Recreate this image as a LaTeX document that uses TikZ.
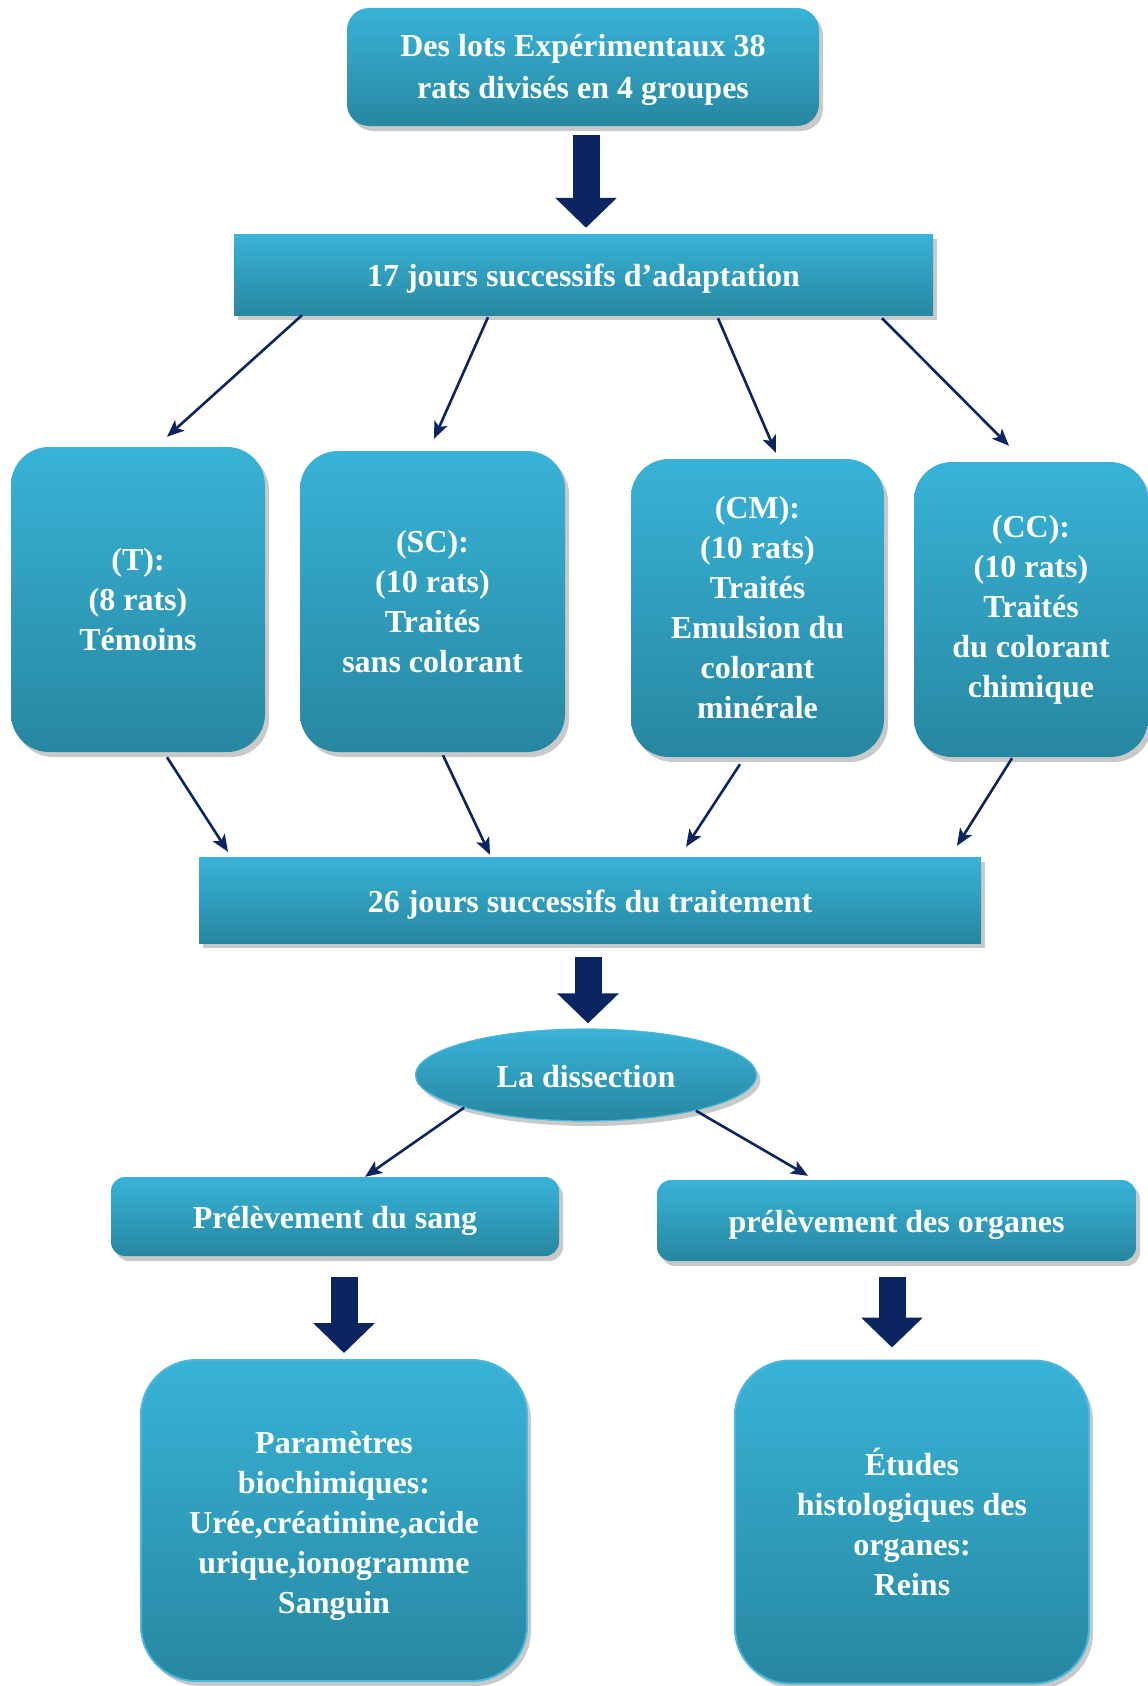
\documentclass[tikz,border=0pt]{standalone}
\usepackage{fontspec}
\setmainfont{Liberation Serif}
\usetikzlibrary{shapes.geometric,arrows.meta,shadows}
\definecolor{boxtop}{HTML}{38B3D7}
\definecolor{boxbot}{HTML}{2787A1}
\definecolor{navy}{HTML}{0A2560}
\definecolor{rim}{HTML}{4DB6D9}
\begin{document}
\begin{tikzpicture}[x=1pt,y=-1pt,
  every node/.style={text=white, font=\fontsize{32}{40}\selectfont\bfseries, align=center, inner sep=0pt},
  box/.style={rectangle, top color=boxtop, bottom color=boxbot, draw=none,
    drop shadow={opacity=0.3, shadow xshift=4pt, shadow yshift=-5pt, fill=black!70}},
  oneline/.style={text height=26pt, text depth=2pt},
  tallbox/.style={box, rounded corners=38pt},
  softbox/.style={box, rounded corners=14pt, oneline},
  bigbox/.style={box, rounded corners=55pt, draw=rim, line width=2pt},
  oval/.style={ellipse, top color=boxtop, bottom color=boxbot, draw=rim, line width=1.2pt,
    text height=25pt, text depth=1pt,
    drop shadow={opacity=0.3, shadow xshift=4pt, shadow yshift=-5pt, fill=black!70}},
  arr/.style={draw=navy, line width=2.6pt, -{Stealth[length=17pt,width=14pt,inset=4pt]}},
  bigarr/.style={draw=navy, line width=27pt, -{Triangle[length=30pt,width=60pt]}}
]
\useasboundingbox (0,0) rectangle (1148,1686);

% nodes
\node[box, rounded corners=22pt, minimum width=472pt, minimum height=118pt, font=\fontsize{32}{42}\selectfont\bfseries] (top) at (583,67) {\rule{0pt}{28pt}Des lots Expérimentaux 38\\rats divisés en 4 groupes};
\node[box, oneline, minimum width=699pt, minimum height=81pt] (adapt) at (583.5,274.5) {17 jours successifs d'adaptation};

\node[tallbox, minimum width=254pt, minimum height=305pt] (T) at (138,599.5) {(T):\\(8 rats)\\Témoins};
\node[tallbox, minimum width=265pt, minimum height=301pt] (SC) at (432.5,601.5) {(SC):\\(10 rats)\\Traités\\sans colorant};
\node[tallbox, minimum width=253pt, minimum height=298pt] (CM) at (757.5,608) {(CM):\\(10 rats)\\Traités\\Emulsion du\\colorant\\minérale};
\node[tallbox, minimum width=234pt, minimum height=295pt] (CC) at (1031,609.5) {(CC):\\(10 rats)\\Traités\\du colorant\\chimique};

\node[box, oneline, minimum width=782pt, minimum height=86pt] (trait) at (590,900) {26 jours successifs du traitement};

\node[oval, minimum width=341pt, minimum height=92pt] (diss) at (586,1075) {La dissection};

\node[softbox, minimum width=448pt, minimum height=79pt] (sang) at (335,1216.5) {Prélèvement du sang};
\node[softbox, minimum width=479pt, minimum height=81pt] (org) at (896.5,1220.5) {prélèvement des organes};

\node[bigbox, minimum width=386pt, minimum height=321pt] (param) at (334,1520.5) {\rule{0pt}{33pt}Paramètres\\biochimiques:\\Urée,créatinine,acide\\urique,ionogramme\\Sanguin};
\node[bigbox, minimum width=354pt, minimum height=323pt] (etud) at (912,1522) {Études\\histologiques des\\organes:\\Reins};

% big arrows
\draw[bigarr] ([xshift=3pt,yshift=-9pt]top.south) -- ([xshift=2.5pt,yshift=6pt]adapt.north);
\draw[bigarr] ([xshift=-2pt,yshift=-14pt]trait.south) -- ([xshift=2pt,yshift=5pt]diss.north);
\draw[bigarr] ([xshift=9pt,yshift=-21pt]sang.south) -- ([xshift=10pt,yshift=6pt]param.north);
\draw[bigarr] ([xshift=-4.5pt,yshift=-16pt]org.south) -- ([xshift=-20pt,yshift=12pt]etud.north);

% thin arrows: adaptation -> groups
\draw[arr] ([xshift=-281.5pt]adapt.south) -- ([xshift=29pt,yshift=10pt]T.north);
\draw[arr] ([xshift=-95.5pt,yshift=-2pt]adapt.south) -- ([xshift=1.5pt,yshift=12pt]SC.north);
\draw[arr] ([xshift=134.5pt,yshift=-3pt]adapt.south) -- ([xshift=18.5pt,yshift=6pt]CM.north);
\draw[arr] ([xshift=298.5pt,yshift=-3pt]adapt.south) -- ([xshift=-22pt,yshift=16pt]CC.north);

% groups -> traitement
\draw[arr] ([xshift=29pt,yshift=-5pt]T.south) -- ([xshift=-362pt,yshift=5pt]trait.north);
\draw[arr] ([xshift=10.5pt,yshift=-3pt]SC.south) -- ([xshift=-100pt,yshift=2pt]trait.north);
\draw[arr] ([xshift=-17.5pt,yshift=-7pt]CM.south) -- ([xshift=96pt,yshift=10pt]trait.north);
\draw[arr] ([xshift=-19pt,yshift=-1pt]CC.south) -- ([xshift=367pt,yshift=11pt]trait.north);

% dissection -> prelevements
\draw[arr] (diss.195) -- ([xshift=30pt]sang.north);
\draw[arr] (diss.-18) -- ([xshift=-88.5pt,yshift=4pt]org.north);
\end{tikzpicture}
\end{document}
